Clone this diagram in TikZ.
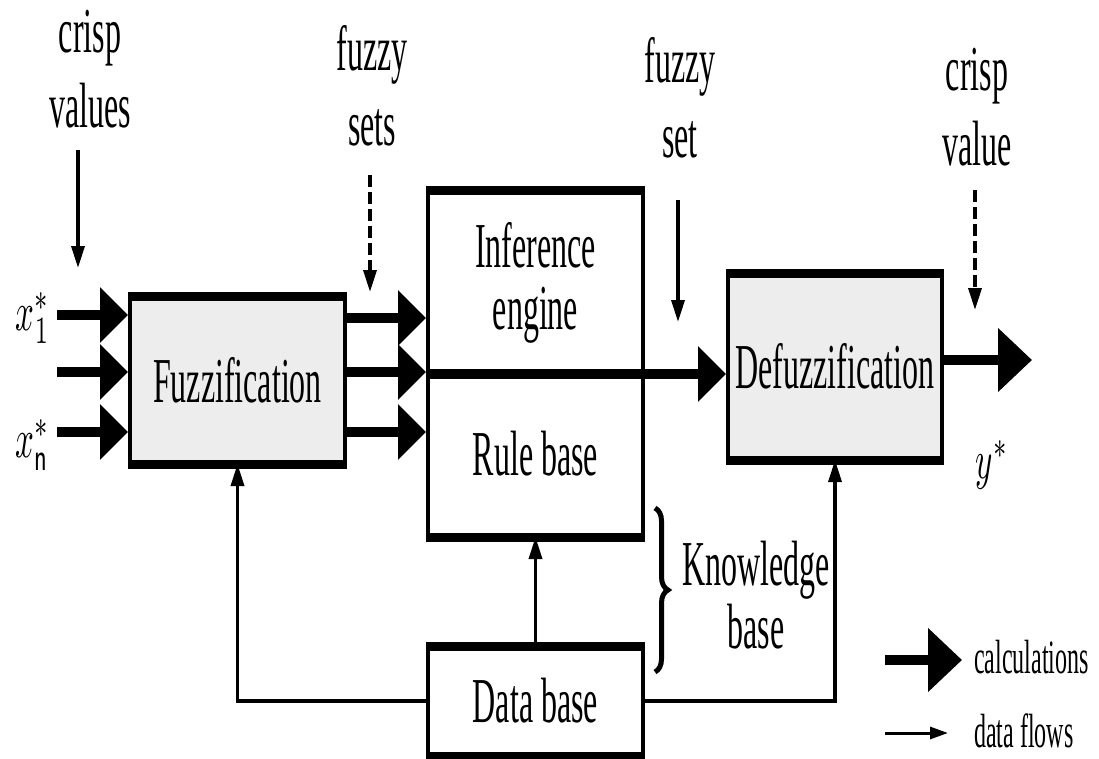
\documentclass[tikz,border=0pt]{standalone}
\usepackage{fontspec}
\setmainfont{Liberation Serif}[FakeStretch=0.5]
\usetikzlibrary{arrows.meta,decorations.pathreplacing}
\begin{document}
\begin{tikzpicture}[x=1pt,y=-1pt,
  box/.style={draw, line width=4pt, minimum width=215pt, inner sep=0pt,
    font=\fontsize{64}{62}\selectfont, align=center},
  grey/.style={fill=gray!14},
  edgeline/.style={line width=9pt},
  calcarrow/.style={line width=10pt, -{Triangle[length=28pt,width=54pt]}},
  bigcalc/.style={line width=10pt, -{Triangle[length=34pt,width=62pt]}},
  flow/.style={line width=3.5pt, -{Triangle[length=22pt,width=13pt]}},
  dflow/.style={flow, dash pattern=on 12pt off 5pt},
  lbl/.style={font=\fontsize{64}{75}\selectfont, align=center, inner sep=0pt},
  small/.style={font=\fontsize{48}{50}\selectfont, inner sep=0pt, anchor=west}]
\useasboundingbox (0,0) rectangle (1099,759);

% boxes
\node[box, grey, minimum height=164pt] (fuzz) at (237.5,380) {Fuzzification};
\node[box, minimum height=179pt] (ie) at (535.5,282.5) {Inference\\engine};
\node[box, minimum height=163pt] (rb) at (535.5,453.5) {Rule base};
\node[box, grey, minimum width=214pt, minimum height=183pt] (defuzz) at (835,366.5) {Defuzzification};
\node[box, minimum height=106pt] (db) at (535.5,701) {Data base};

% thick top/bottom edges
\foreach \n in {fuzz,ie,db,defuzz}{
  \draw[edgeline] (\n.north west) -- (\n.north east);
}
\foreach \n in {fuzz,rb,db,defuzz}{
  \draw[edgeline] (\n.south west) -- (\n.south east);
}
\draw[line width=10pt] (ie.south west) -- (ie.south east);

% input arrows
\coordinate (i1) at (57,315);
\coordinate (i2) at (57,372);
\coordinate (i3) at (57,432);
\draw[calcarrow] (i1) -- (fuzz.west |- i1);
\draw[calcarrow] (i2) -- (fuzz.west |- i2);
\draw[calcarrow] (i3) -- (fuzz.west |- i3);

% fuzz -> inference
\draw[calcarrow] (fuzz.east |- 0,318) -- (ie.west |- 0,318);
\draw[calcarrow] (fuzz.east |- 0,372) -- (ie.west |- 0,372);
\draw[calcarrow] (fuzz.east |- 0,432) -- (rb.west |- 0,432);

% inference -> defuzz
\draw[calcarrow] (ie.south east) -- (defuzz.west |- ie.south east);

% defuzz output
\coordinate (yo) at (1032,360);
\draw[bigcalc] (defuzz.east |- yo) -- (yo);

% data flows
\draw[flow] (db.west) -| (fuzz.south);
\draw[flow] (db.east) -| (defuzz.south);
\draw[flow] (db.north) -- (rb.south);

% labels
\node[lbl] (cv) at (90,69) {crisp\\values};
\node[lbl] (fs) at (372,86) {fuzzy\\sets};
\node[lbl] (fs1) at (680,98) {fuzzy\\set};
\node[lbl] (cv1) at (977,107) {crisp\\value};

\coordinate (a1) at (78,150);  \coordinate (b1) at (78,268);
\coordinate (a2) at (370,175); \coordinate (b2) at (370,292);
\coordinate (a3) at (678,200); \coordinate (b3) at (678,322);
\coordinate (a4) at (975,190); \coordinate (b4) at (975,310);
\draw[flow] (a1) -- (b1);
\draw[dflow] (a2) -- (b2);
\draw[flow] (a3) -- (b3);
\draw[dflow] (a4) -- (b4);

% variables
\node (x1) at (33,318) {\scalebox{3.3}[5.5]{$x^*_1$}};
\node (xn) at (33,445) {\scalebox{3.3}[5.5]{$x^*_{\mathsf{n}}$}};
\node (ys) at (992,465) {\scalebox{3.3}[5.5]{$y^*$}};

% knowledge base brace
\coordinate (kt) at (655,508);
\coordinate (kb0) at (655,672);
\draw[line width=5pt, decorate, decoration={brace, amplitude=13pt}] (kt) -- (kb0);
\node[lbl, font=\fontsize{64}{63}\selectfont] (kb) at (756,595) {Knowledge\\base};

% legend
\coordinate (l1) at (885,660); \coordinate (l2) at (962,660);
\coordinate (l3) at (885,733); \coordinate (l4) at (948,733);
\draw[bigcalc] (l1) -- (l2);
\draw[line width=3pt, -{Triangle[length=18pt,width=12pt]}] (l3) -- (l4);
\node[small] (lc) at (974,657) {calculations};
\node[small] (ld) at (974,731) {data flows};
\end{tikzpicture}
\end{document}
